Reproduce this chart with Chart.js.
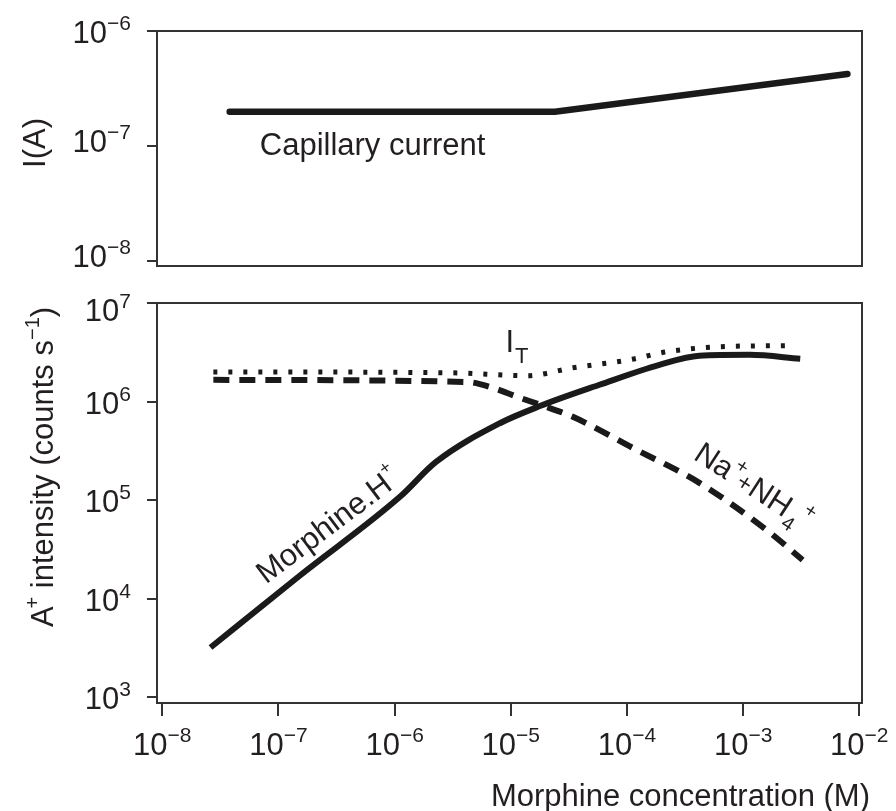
<!DOCTYPE html>
<html>
<head>
<meta charset="utf-8">
<script src="https://cdn.jsdelivr.net/npm/chart.js@4.4.1/dist/chart.umd.min.js"></script>
<style>
  html, body { margin: 0; padding: 0; background: #fff; }
  #wrap { position: relative; width: 896px; height: 811px; }
  canvas { position: absolute; left: 0; }
  #top-chart { top: 0; }
  #bottom-chart { top: 280px; }
</style>
</head>
<body>
<div id="wrap">
  <canvas id="top-chart" width="896" height="280"></canvas>
  <canvas id="bottom-chart" width="896" height="531"></canvas>
</div>
<script>
// Tick values
const concTicks = [1e-8, 1e-7, 1e-6, 1e-5, 1e-4, 1e-3, 1e-2];
const currentTicks = [1e-8, 1e-7, 1e-6];
const intensityTicks = [1e3, 1e4, 1e5, 1e6, 1e7];

// Top panel: capillary current (A)
const capillaryConc = [3.8e-8, 2.4e-5, 7.9e-3];
const capillaryCurrent = [1.98e-7, 1.98e-7, 4.23e-7];

// Bottom panel: ion intensities (counts/s)
const morphineConc = [2.6e-8, 1.54e-7, 1.11e-6, 2.27e-6, 8.05e-6, 1.78e-5, 5.8e-5, 1.9e-4, 4.2e-4, 1.14e-3, 3.1e-3];
const morphineIntensity = [3.2e3, 1.73e4, 1.08e5, 2.44e5, 6.03e5, 9.0e5, 1.48e6, 2.36e6, 2.92e6, 2.98e6, 2.72e6];

const totalConc = [2.75e-8, 3.0e-6, 1.37e-5, 3.42e-5, 1.06e-4, 2.2e-4, 6.3e-4, 2.4e-3];
const totalIntensity = [2.0e6, 1.96e6, 1.83e6, 2.2e6, 2.66e6, 3.2e6, 3.6e6, 3.69e6];

const ionConc = [2.75e-8, 4.2e-6, 7.0e-6, 1.13e-5, 1.78e-5, 3.42e-5, 1.12e-4, 4.23e-4, 1.59e-3, 3.25e-3];
const ionIntensity = [1.66e6, 1.58e6, 1.38e6, 1.12e6, 9.3e5, 7.0e5, 3.39e5, 1.49e5, 4.98e4, 2.47e4];

// where the curve labels sit (data coords)
const capillaryLabelAt = { x: 6.9e-8, y: 8.4e-8 };
const totalLabelAt = { x: 9.0e-6, y: 3.2e6 };
const morphineLabelAt = { x: 7.8e-8, y: 1.39e4 };
const ionLabelAt = { x: 3.65e-4, y: 2.65e5 };

const ink = '#231f20';
const lineColour = '#1a1a1a';
const frameColour = '#333333';
const fontFamily = '"Liberation Sans", Arial, Helvetica, sans-serif';

const xMin = Math.pow(10, -8.026);
const xMax = Math.pow(10, -1.977);

function points(xs, ys) {
  return xs.map((x, i) => ({ x: x, y: ys[i] }));
}

function expLabel(ctx, value, x, y, align) {
  const exp = Math.round(Math.log10(value));
  const sup = exp < 0 ? '\u2212' + (-exp) : String(exp);
  ctx.font = '31px ' + fontFamily;
  const wBase = ctx.measureText('10').width;
  ctx.font = '21px ' + fontFamily;
  const wSup = ctx.measureText(sup).width;
  const left = align === 'right' ? x - wBase - wSup : x - (wBase + wSup) / 2;
  ctx.textAlign = 'left';
  ctx.textBaseline = 'alphabetic';
  ctx.fillStyle = ink;
  ctx.font = '31px ' + fontFamily;
  ctx.fillText('10', left, y);
  ctx.font = '21px ' + fontFamily;
  ctx.fillText(sup, left + wBase, y - 13);
}

function partsWidth(ctx, parts) {
  let w = 0;
  parts.forEach((p) => {
    ctx.font = (p.size || 31) + 'px ' + fontFamily;
    w += ctx.measureText(p.text).width + (p.dx || 0);
  });
  return w;
}

function richText(ctx, parts, x, y, angle) {
  ctx.save();
  ctx.translate(x, y);
  ctx.rotate(angle * Math.PI / 180);
  ctx.fillStyle = ink;
  ctx.textAlign = 'left';
  ctx.textBaseline = 'alphabetic';
  let cx = 0;
  parts.forEach((p) => {
    ctx.font = (p.size || 31) + 'px ' + fontFamily;
    cx += p.dx || 0;
    ctx.fillText(p.text, cx, p.dy || 0);
    cx += ctx.measureText(p.text).width;
  });
  ctx.restore();
}

const framePlugin = {
  id: 'frame',
  afterDatasetsDraw(chart) {
    const { ctx, chartArea: a } = chart;
    ctx.save();
    ctx.strokeStyle = frameColour;
    ctx.lineWidth = 2;
    ctx.strokeRect(a.left, a.top, a.right - a.left, a.bottom - a.top);
    ctx.restore();
  }
};

function logAxis(min, max, tickValues, tickLength, show) {
  return {
    type: 'logarithmic',
    display: show,
    min: min,
    max: max,
    afterBuildTicks: (scale) => { scale.ticks = tickValues.map((v) => ({ value: v })); },
    ticks: { display: false },
    grid: { drawOnChartArea: false, drawTicks: true, tickLength: tickLength, color: frameColour, lineWidth: 2 },
    border: { display: false }
  };
}

// Top panel
const topLabels = {
  id: 'topLabels',
  afterDraw(chart) {
    const { ctx, chartArea, scales: { x, y } } = chart;
    currentTicks.forEach((v) => {
      const py = Math.max(y.getPixelForValue(v) + 6, chartArea.top + 12);
      expLabel(ctx, v, 131, py, 'right');
    });
    const title = [{ text: 'I(A)' }];
    const w = partsWidth(ctx, title);
    richText(ctx, title, 45, 143 + w / 2, -90);
    richText(ctx, [{ text: 'Capillary current' }],
      x.getPixelForValue(capillaryLabelAt.x), y.getPixelForValue(capillaryLabelAt.y), 0);
  }
};

const topYAxis = logAxis(Math.pow(10, -8.046), 1e-6, currentTicks, 10, true);
topYAxis.afterFit = (scale) => { scale.width = 157; };

new Chart(document.getElementById('top-chart'), {
  type: 'line',
  data: {
    datasets: [{
      data: points(capillaryConc, capillaryCurrent),
      borderColor: lineColour,
      borderWidth: 6.5,
      pointRadius: 0,
      tension: 0,
      borderCapStyle: 'round'
    }]
  },
  options: {
    responsive: false,
    animation: false,
    layout: { padding: { top: 31, right: 34, bottom: 14, left: 0 } },
    plugins: { legend: { display: false }, tooltip: { enabled: false } },
    scales: {
      x: logAxis(xMin, xMax, concTicks, 0, false),
      y: topYAxis
    }
  },
  plugins: [framePlugin, topLabels]
});

// Bottom panel
const bottomLabels = {
  id: 'bottomLabels',
  afterDraw(chart) {
    const { ctx, chartArea, scales: { x, y } } = chart;
    intensityTicks.forEach((v) => {
      const py = Math.max(y.getPixelForValue(v) + 12, chartArea.top + 18);
      expLabel(ctx, v, 131, py, 'right');
    });
    concTicks.forEach((v) => {
      expLabel(ctx, v, x.getPixelForValue(v), chartArea.bottom + 52, 'center');
    });

    ctx.save();
    ctx.fillStyle = ink;
    ctx.font = '31px ' + fontFamily;
    ctx.textAlign = 'right';
    ctx.textBaseline = 'alphabetic';
    ctx.fillText('Morphine concentration (M)', 870, chartArea.bottom + 103);
    ctx.restore();

    const title = [
      { text: 'A' },
      { text: '+', size: 20, dy: -14, dx: -2 },
      { text: ' intensity (counts s' },
      { text: '\u22121', size: 20, dy: -14 },
      { text: ')' }
    ];
    const w = partsWidth(ctx, title);
    richText(ctx, title, 53, 187 + w / 2, -90);

    const ix = x.getPixelForValue(totalLabelAt.x);
    const iy = y.getPixelForValue(totalLabelAt.y);
    richText(ctx, [{ text: 'I' }, { text: 'T', size: 22, dy: 11, dx: 1 }], ix, iy, 0);

    richText(ctx, [{ text: 'Morphine.H' }, { text: '+', size: 18, dy: -16 }],
      x.getPixelForValue(morphineLabelAt.x), y.getPixelForValue(morphineLabelAt.y), -37);

    richText(ctx, [
      { text: 'Na' },
      { text: '+', size: 20, dy: -14, dx: 1 },
      { text: '+', size: 24, dx: -2 },
      { text: 'NH' },
      { text: '4', size: 20, dy: 9, dx: 1 },
      { text: '+', size: 20, dy: -14, dx: 1 }
    ], x.getPixelForValue(ionLabelAt.x), y.getPixelForValue(ionLabelAt.y), 33);
  }
};

const bottomXAxis = logAxis(xMin, xMax, concTicks, 13, true);
bottomXAxis.afterFit = (scale) => { scale.height = 108; };
const bottomYAxis = logAxis(Math.pow(10, 2.942), 1e7, intensityTicks, 10, true);
bottomYAxis.afterFit = (scale) => { scale.width = 157; };

new Chart(document.getElementById('bottom-chart'), {
  type: 'line',
  data: {
    datasets: [
      {
        label: 'Morphine.H+',
        data: points(morphineConc, morphineIntensity),
        borderColor: lineColour,
        borderWidth: 6,
        pointRadius: 0,
        cubicInterpolationMode: 'monotone'
      },
      {
        label: 'IT',
        data: points(totalConc, totalIntensity),
        borderColor: lineColour,
        borderWidth: 5,
        borderDash: [4, 11],
        pointRadius: 0,
        cubicInterpolationMode: 'monotone'
      },
      {
        label: 'Na+ + NH4+',
        data: points(ionConc, ionIntensity),
        borderColor: lineColour,
        borderWidth: 6,
        borderDash: [16, 10],
        pointRadius: 0,
        cubicInterpolationMode: 'monotone'
      }
    ]
  },
  options: {
    responsive: false,
    animation: false,
    layout: { padding: { top: 23, right: 34, bottom: 0, left: 0 } },
    plugins: { legend: { display: false }, tooltip: { enabled: false } },
    scales: {
      x: bottomXAxis,
      y: bottomYAxis
    }
  },
  plugins: [framePlugin, bottomLabels]
});
</script>
</body>
</html>
